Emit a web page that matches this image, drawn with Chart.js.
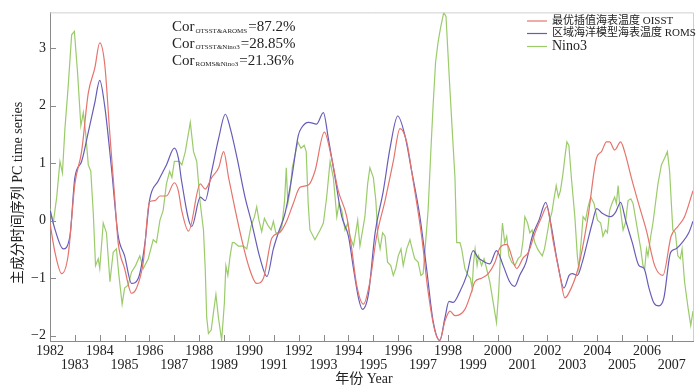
<!DOCTYPE html>
<html><head><meta charset="utf-8">
<script src="https://cdn.jsdelivr.net/npm/chart.js@4/dist/chart.umd.min.js"></script>
<style>html,body{margin:0;padding:0;background:#fff;}</style>
</head><body>
<canvas id="c" width="700" height="388"></canvas>
<script>
const seriesNames = ['最优插值海表温度 OISST', '区域海洋模型海表温度 ROMS', 'Nino3'];
const seriesColors = ['#e5746c', '#675db8', '#9bcb6b'];

const oisstYears = [1982.0,1982.2,1982.47,1982.73,1983.0,1983.27,1983.54,1983.8,1984.0,1984.2,1984.4,1984.6,1984.74,1985.0,1985.28,1985.48,1985.75,1986.0,1986.22,1986.42,1986.68,1987.0,1987.16,1987.29,1987.57,1988.04,1988.24,1988.5,1988.78,1988.98,1989.18,1989.45,1989.71,1989.98,1990.31,1990.58,1990.92,1991.25,1991.52,1991.78,1992.05,1992.39,1992.65,1993.03,1993.32,1993.59,1993.93,1994.13,1994.33,1994.6,1994.86,1995.13,1995.47,1995.8,1996.07,1996.34,1996.6,1996.94,1997.2,1997.47,1997.67,1997.88,1998.08,1998.28,1998.68,1998.95,1999.08,1999.35,1999.62,1999.89,2000.09,2000.36,2000.76,2001.03,2001.23,2001.5,2001.77,2001.97,2002.24,2002.5,2002.7,2002.83,2003.23,2003.63,2003.97,2004.17,2004.37,2004.5,2004.7,2004.94,2005.1,2005.37,2005.7,2005.97,2006.31,2006.64,2006.97,2007.24,2007.51,2007.85];
const oisstValues = [-0.04,-0.55,-0.92,-0.6,0.64,1.2,2.22,2.65,3.09,2.72,1.54,0.41,-0.38,-0.83,-1.26,-1.17,-0.72,0.33,0.35,0.43,0.43,0.66,0.52,0.19,-0.18,0.64,0.55,0.75,0.92,1.2,0.75,0.18,-0.33,-0.78,-1.09,-1.0,-0.3,-0.2,0.0,0.3,0.58,0.62,0.86,1.54,1.09,0.52,0.07,-0.49,-1.12,-1.45,-1.06,-0.27,0.35,1.03,1.6,1.37,0.69,-0.27,-1.23,-1.91,-2.08,-1.74,-1.57,-1.65,-1.54,-1.23,-1.06,-1.0,-0.92,-0.72,-0.47,-0.41,-0.83,-0.64,-0.55,-0.21,0.07,0.24,-0.38,-0.95,-1.34,-1.28,-0.83,0.07,1.09,1.2,1.37,1.37,1.23,1.37,1.2,0.75,0.24,-0.16,-0.78,-0.95,-0.27,-0.1,0.07,0.52];

const romsYears = [1982.0,1982.2,1982.53,1982.8,1983.0,1983.27,1983.54,1983.8,1984.0,1984.2,1984.47,1984.74,1985.0,1985.28,1985.55,1985.82,1986.0,1986.35,1986.68,1987.0,1987.16,1987.29,1987.7,1988.04,1988.24,1988.5,1988.78,1989.05,1989.25,1989.52,1989.84,1990.11,1990.45,1990.72,1990.98,1991.18,1991.45,1991.72,1991.98,1992.12,1992.39,1992.72,1992.99,1993.19,1993.46,1993.73,1994.0,1994.2,1994.4,1994.56,1994.8,1995.07,1995.4,1995.67,1995.98,1996.27,1996.54,1996.87,1997.14,1997.4,1997.67,1997.88,1998.04,1998.21,1998.48,1998.75,1999.01,1999.21,1999.48,1999.68,1999.95,2000.22,2000.48,2000.68,2000.88,2001.14,2001.39,2001.66,2001.93,2002.13,2002.4,2002.66,2002.87,2003.0,2003.2,2003.4,2003.6,2003.8,2003.98,2004.2,2004.54,2004.74,2004.94,2005.14,2005.41,2005.68,2005.88,2006.08,2006.28,2006.48,2006.68,2006.95,2007.15,2007.41,2007.68,2007.85];
const romsValues = [0.18,-0.15,-0.49,-0.27,0.75,1.03,1.54,2.05,2.44,1.99,0.92,-0.26,-0.61,-1.09,-1.0,-0.38,0.35,0.69,0.97,1.26,1.09,0.69,-0.1,0.41,0.35,0.86,1.43,1.85,1.6,1.09,0.41,-0.04,-0.66,-0.97,-0.49,-0.21,0.13,0.75,1.48,1.62,1.71,1.68,1.88,1.43,0.75,0.07,-0.27,-0.83,-1.34,-1.54,-1.28,-0.21,0.52,1.26,1.82,1.48,0.86,0.07,-0.83,-1.74,-2.08,-1.68,-1.4,-1.42,-1.23,-0.95,-0.52,-0.64,-0.72,-0.75,-0.52,-0.78,-1.06,-1.14,-0.95,-0.72,-0.27,0.01,0.32,-0.04,-0.72,-1.17,-0.95,-0.92,-0.95,-0.72,-0.38,-0.04,0.21,0.13,0.07,0.15,0.32,0.01,-0.38,-0.78,-0.83,-1.17,-1.43,-1.48,-1.34,-0.55,-0.49,-0.38,-0.21,-0.01];

const ninoYears = [1982.0,1982.13,1982.27,1982.4,1982.5,1982.6,1982.73,1982.87,1982.98,1983.11,1983.24,1983.34,1983.43,1983.54,1983.64,1983.74,1983.83,1983.94,1984.0,1984.14,1984.27,1984.41,1984.54,1984.67,1984.77,1984.9,1985.0,1985.14,1985.28,1985.44,1985.61,1985.75,1985.95,1986.15,1986.28,1986.42,1986.55,1986.68,1986.81,1986.9,1987.0,1987.2,1987.3,1987.44,1987.64,1987.77,1987.9,1988.04,1988.17,1988.24,1988.3,1988.37,1988.48,1988.57,1988.67,1988.77,1988.9,1989.01,1989.07,1989.15,1989.24,1989.33,1989.41,1989.57,1989.78,1989.91,1990.08,1990.22,1990.31,1990.4,1990.51,1990.62,1990.76,1990.89,1990.98,1991.08,1991.21,1991.32,1991.43,1991.5,1991.56,1991.65,1991.74,1991.85,1991.96,1992.09,1992.22,1992.3,1992.38,1992.45,1992.65,1992.86,1992.99,1993.12,1993.26,1993.39,1993.53,1993.62,1993.73,1993.86,1993.97,1994.06,1994.2,1994.29,1994.37,1994.46,1994.55,1994.66,1994.77,1994.86,1995.0,1995.1,1995.18,1995.27,1995.37,1995.47,1995.57,1995.7,1995.8,1995.9,1996.0,1996.11,1996.2,1996.34,1996.47,1996.56,1996.66,1996.8,1996.91,1997.0,1997.1,1997.2,1997.31,1997.4,1997.5,1997.6,1997.7,1997.83,1997.92,1998.05,1998.18,1998.28,1998.35,1998.48,1998.55,1998.68,1998.81,1998.9,1998.97,1999.03,1999.09,1999.17,1999.23,1999.35,1999.45,1999.55,1999.68,1999.81,1999.95,2000.04,2000.12,2000.19,2000.28,2000.36,2000.45,2000.56,2000.69,2000.82,2000.93,2001.02,2001.09,2001.2,2001.29,2001.38,2001.49,2001.6,2001.69,2001.79,2001.88,2001.97,2002.08,2002.17,2002.25,2002.35,2002.44,2002.52,2002.62,2002.71,2002.78,2002.86,2002.96,2003.1,2003.2,2003.26,2003.37,2003.43,2003.53,2003.63,2003.74,2003.87,2004.01,2004.14,2004.23,2004.33,2004.41,2004.5,2004.59,2004.7,2004.77,2004.84,2004.9,2004.97,2005.04,2005.13,2005.24,2005.35,2005.44,2005.53,2005.64,2005.75,2005.84,2005.91,2005.98,2006.04,2006.15,2006.24,2006.34,2006.44,2006.58,2006.71,2006.82,2006.91,2006.98,2007.04,2007.14,2007.24,2007.34,2007.41,2007.51,2007.65,2007.76,2007.85];
const ninoValues = [0.21,-0.04,0.41,1.03,0.83,1.6,2.33,3.23,3.29,2.56,1.65,1.88,1.54,0.97,0.86,0.13,-0.78,-0.66,-0.83,-0.04,-0.21,-1.06,-0.55,-0.49,-0.95,-1.45,-1.17,-1.12,-0.89,-0.78,-0.61,-0.83,-0.66,-0.33,-0.38,0.01,0.18,0.64,0.86,0.75,1.03,1.03,0.97,1.2,1.71,1.2,1.03,0.3,-0.16,-0.83,-1.68,-1.96,-1.9,-1.6,-1.28,-1.68,-2.08,-1.43,-0.78,-0.95,-0.61,-0.38,-0.38,-0.44,-0.44,-0.49,-0.1,0.07,0.24,0.01,-0.19,0.04,-0.08,-0.16,-0.01,-0.21,-0.21,-0.1,0.35,0.92,0.3,0.52,0.92,1.14,1.37,1.26,1.31,1.2,0.3,-0.16,-0.33,-0.16,-0.04,0.4,1.03,0.75,0.07,0.3,0.18,-0.16,-0.04,-0.27,-0.44,-0.21,0.01,-0.44,-0.21,0.07,0.64,0.92,0.75,0.35,-0.27,-0.49,-0.21,-0.27,-0.72,-0.78,-0.95,-0.83,-0.61,-0.49,-0.78,-0.49,-0.33,-0.49,-0.66,-0.72,-0.95,-0.92,-0.38,0.18,1.2,1.99,2.75,3.1,3.35,3.62,3.55,2.5,1.5,0.75,-0.38,-0.38,-0.49,-0.83,-0.95,-1.0,-1.17,-0.72,-0.49,-0.78,-0.61,-0.78,-0.66,-0.83,-1.06,-1.4,-1.77,-1.23,-0.49,-0.04,-0.38,-0.27,-0.61,-0.72,-0.78,-0.66,-0.61,-0.33,0.07,-0.04,-0.21,-0.16,-0.38,-0.49,-0.55,-0.61,-0.49,-0.27,0.01,0.13,0.35,0.61,0.41,0.52,0.81,1.14,1.37,1.31,0.75,0.07,-0.61,-0.83,-0.27,0.07,0.01,0.24,0.41,0.3,0.01,-0.04,-0.27,-0.16,-0.21,0.18,0.3,0.41,0.3,0.61,0.3,0.07,-0.16,-0.04,0.35,0.38,0.3,0.07,-0.21,-0.49,-0.78,-0.83,-0.49,-0.61,-0.27,-0.04,0.3,0.64,0.97,1.09,1.2,0.86,0.3,-0.16,-0.21,-0.61,-0.66,-0.49,-1.06,-1.51,-1.82,-1.57];

const xTickYears = [1982,1983,1984,1985,1986,1987,1988,1989,1990,1991,1992,1993,1994,1995,1996,1997,1998,1999,2000,2001,2002,2003,2004,2005,2006,2007];
const yTickValues = [-2,-1,0,1,2,3];
const corMain = ['Cor','Cor','Cor'];
const corSubs = ['OTSST&AROMS','OTSST&Nino3','ROMS&Nino3'];
const corVals = ['=87.2%','=28.85%','=21.36%'];
const xTitle = '年份 Year';
const yTitle = '主成分时间序列 PC time series';

const SERIF = '"Liberation Serif","Noto Sans CJK SC",serif';
const toPts = (xs, ys) => xs.map((x, i) => ({x: x, y: ys[i]}));

const decor = {
  id: 'decor',
  afterDraw(chart) {
    const ctx = chart.ctx, a = chart.chartArea;
    const xs = chart.scales.x, ys = chart.scales.y;
    ctx.save();
    // light top/right frame
    ctx.strokeStyle = '#cfcfcf'; ctx.lineWidth = 1;
    ctx.beginPath();
    ctx.moveTo(a.left, a.top + 0.5); ctx.lineTo(a.right + 0.5, a.top + 0.5); ctx.lineTo(a.right + 0.5, a.bottom);
    ctx.stroke();
    // inner tick marks
    ctx.strokeStyle = '#8a8a8a';
    ctx.beginPath();
    xTickYears.forEach(v => { const p = Math.round(xs.getPixelForValue(v)) + 0.5; ctx.moveTo(p, a.bottom); ctx.lineTo(p, a.bottom - 6); });
    yTickValues.forEach(v => { const p = Math.round(ys.getPixelForValue(v)) + 0.5; ctx.moveTo(a.left, p); ctx.lineTo(a.left + 6, p); });
    ctx.stroke();
    // legend
    const lx = 527, lys = [21, 33.5, 46.5];
    seriesNames.forEach((n, i) => {
      ctx.strokeStyle = seriesColors[i]; ctx.lineWidth = 1.2;
      ctx.beginPath(); ctx.moveTo(lx, lys[i]); ctx.lineTo(lx + 20, lys[i]); ctx.stroke();
      ctx.fillStyle = '#222'; ctx.textBaseline = 'middle'; ctx.textAlign = 'left';
      ctx.font = (i === 2 ? '14px ' : '11px ') + SERIF;
      ctx.fillText(n, lx + 25, lys[i]);
    });
    // correlation annotations
    const cys = [27.5, 44, 61];
    corMain.forEach((m, i) => {
      let x = 172;
      ctx.fillStyle = '#222'; ctx.textBaseline = 'middle'; ctx.textAlign = 'left';
      ctx.font = '15px ' + SERIF;
      ctx.fillText(m, x, cys[i]); x += ctx.measureText(m).width + 1;
      ctx.font = '7px ' + SERIF;
      ctx.fillText(corSubs[i], x, cys[i] + 3.5); x += ctx.measureText(corSubs[i]).width + 1;
      ctx.font = '15px ' + SERIF;
      ctx.fillText(corVals[i], x, cys[i]);
    });
    // axis titles
    ctx.font = '14px ' + SERIF; ctx.fillStyle = '#222'; ctx.textAlign = 'center'; ctx.textBaseline = 'middle';
    ctx.fillText(xTitle, 364, 379);
    ctx.translate(18.5, 193); ctx.rotate(-Math.PI / 2);
    ctx.fillText(yTitle, 0, 0);
    ctx.restore();
  }
};

new Chart(document.getElementById('c'), {
  type: 'line',
  data: {
    datasets: [
      {label: seriesNames[0], data: toPts(oisstYears, oisstValues), borderColor: seriesColors[0], borderWidth: 1.2, pointRadius: 0, cubicInterpolationMode: 'monotone', fill: false},
      {label: seriesNames[1], data: toPts(romsYears, romsValues), borderColor: seriesColors[1], borderWidth: 1.2, pointRadius: 0, cubicInterpolationMode: 'monotone', fill: false},
      {label: seriesNames[2], data: toPts(ninoYears, ninoValues), borderColor: seriesColors[2], borderWidth: 1.2, pointRadius: 0, tension: 0, fill: false}
    ]
  },
  options: {
    responsive: false, animation: false, devicePixelRatio: 1,
    layout: {padding: {left: 0, right: 7, top: 4, bottom: 0}},
    plugins: {legend: {display: false}, tooltip: {enabled: false}},
    scales: {
      x: {
        type: 'linear', min: 1982, max: 2007.85,
        afterBuildTicks: s => { s.ticks = xTickYears.map(v => ({value: v})); },
        afterFit: s => { s.height = 47; },
        grid: {display: false, drawTicks: false},
        border: {display: true, color: '#8a8a8a', width: 1},
        ticks: {
          autoSkip: false, maxRotation: 0, minRotation: 0, padding: 4, color: '#222',
          font: {family: SERIF, size: 14, lineHeight: 0.95},
          callback: v => (v % 2 === 0 ? String(v) : ['', String(v)])
        }
      },
      y: {
        min: -2.09, max: 3.62,
        afterBuildTicks: s => { s.ticks = yTickValues.map(v => ({value: v})); },
        afterFit: s => { s.width = 50; },
        grid: {display: false, drawTicks: false},
        border: {display: true, color: '#8a8a8a', width: 1},
        ticks: {
          padding: 4, color: '#222', font: {family: SERIF, size: 14},
          callback: v => (v < 0 ? '\u2212' + Math.abs(v) : String(v))
        }
      }
    }
  },
  plugins: [decor]
});
</script>
</body></html>
